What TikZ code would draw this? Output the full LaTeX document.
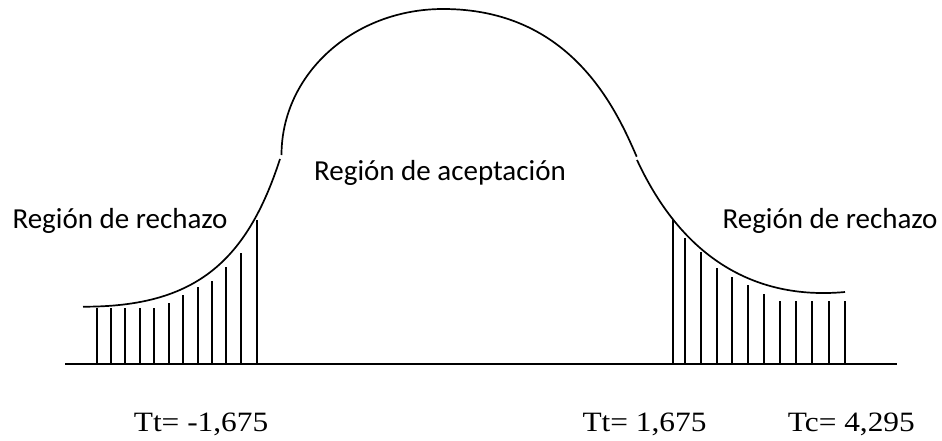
\documentclass[tikz,border=0pt]{standalone}
\usepackage{fontspec}
\setmainfont{Carlito}
\newfontfamily\valfont[FakeStretch=1.12]{Liberation Serif}

\begin{document}
\begin{tikzpicture}[x=1pt,y=-1pt,line width=1.7pt,
  region node/.style={anchor=base west,inner sep=0pt,font=\fontsize{29}{34}\selectfont},
  value node/.style={anchor=base west,inner sep=0pt,font=\valfont\fontsize{28}{34}\selectfont}]
  \useasboundingbox (0,0) rectangle (942,441);

  % axis
  \coordinate (axisL) at (65,364);
  \coordinate (axisR) at (897,364);
  \draw (axisL) -- (axisR);

  % curve: left tail, arch, right tail
  \draw (83,306.7) .. controls (193,307) and (246,264) .. (280,159);
  \draw (281.5,155) .. controls (281.5,74) and (353.6,9) .. (443,9)
                    .. controls (571,9) and (616,109) .. (636.7,156.7);
  \draw (637,160) .. controls (689,272) and (770,299) .. (845,292);

  % rejection hatching
  \foreach \x/\y in {96.7/308,111/308,125.3/308,139.7/308,154/308,169/302.7,
                     183.3/295,197.7/287.3,212/280.7,226.3/266.7,241/252.7,257/220}
    \draw (\x,364) -- (\x,\y);
  \foreach \x/\y in {672.7/220,684.7/238.3,700.7/251.7,716.7/268.3,732.3/276.7,
                     748.3/285,764/294.3,780.3/300.7,796.3/300.7,812.3/300.7,
                     828.7/300.7,844.7/300.7}
    \draw (\x,364) -- (\x,\y);

  % labels
  \node[region node] (rejL) at (11.7,228) {Región de rechazo};
  \node[region node] (accept) at (313.3,180.7) {Región de aceptación};
  \node[region node] (rejR) at (721.7,228) {Región de rechazo};

  \node[value node] (ttL) at (133,431.5) {Tt= -1,675};
  \node[value node] (ttR) at (581.7,431.5) {Tt= 1,675};
  \node[value node] (tc) at (787,431.5) {Tc= 4,295};
\end{tikzpicture}
\end{document}
